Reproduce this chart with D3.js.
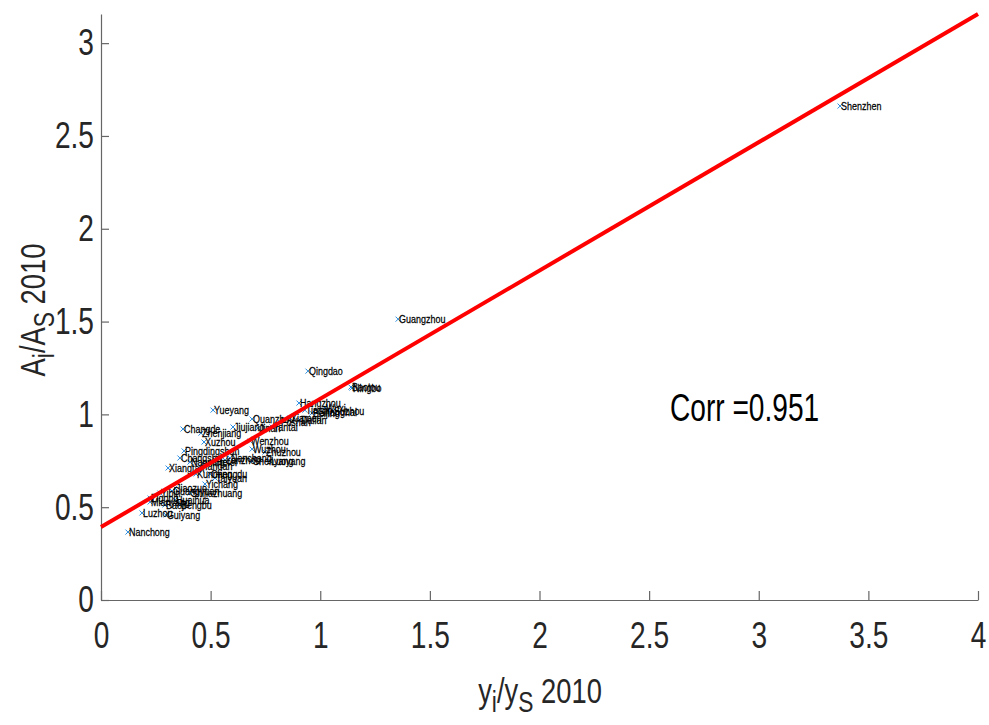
<!DOCTYPE html>
<html>
<head>
<meta charset="utf-8">
<script src="https://cdn.jsdelivr.net/npm/d3@7"></script>
<style>
  body { margin: 0; background: #fff; }
  svg { display: block; font-family: "Liberation Sans", Arial, sans-serif; }
</style>
</head>
<body>
<svg id="chart" width="989" height="725"></svg>
<script>
// mesta a jejich hodnoty (odhad z obrazku)
const cities = ["Shenzhen", "Guangzhou", "Qingdao", "Baotou", "Ningbo", "Hangzhou", "Tianjin", "Beijing",
    "Shanghai", "Wuxi", "Suzhou", "Dalian", "Xiamen", "Foshan", "Yantai", "Quanzhou", "Jinan", "Yueyang",
    "Jiujiang", "Changde", "Zhenjiang", "Xuzhou", "Wenzhou", "Wuzhou", "Zhuzhou", "Pingdingshan", "Nanchang",
    "Shenyang", "Luoyang", "Hefei", "Kunming", "Chengdu", "Xiangtan", "Nanning", "Handan", "Changsha",
    "Yichang", "Shijiazhuang", "Jiaozuo", "Guangyuan", "Zigong", "Mianyang", "Baoji", "Luzhou", "Guiyang",
    "Nanchong", "Huaihua", "Bengbu", "Yibin", "Taiyuan", "Lanzhou"];
// y_i / y_S 2010
const incomeRatio = [3.371, 1.355, 0.944, 1.140, 1.145, 0.903, 0.930, 0.962,
    0.990, 1.022, 1.058, 0.908, 0.862, 0.816, 0.780, 0.689, 0.716, 0.511,
    0.602, 0.374, 0.456, 0.470, 0.680, 0.689, 0.748, 0.379, 0.588,
    0.689, 0.771, 0.520, 0.433, 0.497, 0.306, 0.406, 0.452, 0.360,
    0.474, 0.406, 0.338, 0.324, 0.224, 0.224, 0.292, 0.187, 0.296,
    0.123, 0.338, 0.360, 0.269, 0.520, 0.566];
// A_i / A_S 2010
const tfpRatio = [2.661, 1.513, 1.233, 1.147, 1.142, 1.061, 1.023, 1.007,
    1.013, 1.034, 1.018, 0.969, 0.980, 0.959, 0.932, 0.975, 0.926, 1.023,
    0.932, 0.921, 0.899, 0.851, 0.856, 0.813, 0.797, 0.803, 0.765,
    0.749, 0.749, 0.743, 0.679, 0.679, 0.711, 0.743, 0.722, 0.765,
    0.625, 0.576, 0.603, 0.587, 0.549, 0.528, 0.512, 0.469, 0.458,
    0.366, 0.539, 0.512, 0.576, 0.657, 0.754];
// regresni primka
const fitIntercept = 0.393;
const fitSlope = 0.691;
const corrValue = "0.951";
const xTicks = [0, 0.5, 1, 1.5, 2, 2.5, 3, 3.5, 4];
const yTicks = [0, 0.5, 1, 1.5, 2, 2.5, 3];

const svg = d3.select("#chart");
const squeeze = 0.76; // pismo je zuzene

const x = d3.scaleLinear().domain([0, 4]).range([101, 978]);
const y = d3.scaleLinear().domain([0, fitIntercept + fitSlope * 4]).range([600, 14]);

// osy
const xAxis = d3.axisBottom(x).tickValues(xTicks).tickFormat(d3.format("")).tickSizeInner(-9).tickSizeOuter(0).tickPadding(22);
const yAxis = d3.axisLeft(y).tickValues(yTicks).tickFormat(d3.format("")).tickSizeInner(-8).tickSizeOuter(0).tickPadding(7);

const gx = svg.append("g").attr("transform", "translate(0,600)").call(xAxis);
const gy = svg.append("g").attr("transform", "translate(101,0)").call(yAxis);

[gx, gy].forEach(g => {
    g.select(".domain").attr("stroke", "#666").attr("stroke-width", 1.2);
    g.selectAll(".tick line").attr("stroke", "#666").attr("stroke-width", 1.2);
    g.selectAll(".tick text").attr("fill", "#262626").attr("font-size", 37)
        .attr("font-family", "'Liberation Sans', Arial, sans-serif");
});
gx.selectAll(".tick text").attr("transform", `scale(${squeeze},1)`);
gy.selectAll(".tick text").attr("x", -7 / squeeze).attr("transform", `scale(${squeeze},1)`);

// body s popisky
const pts = cities.map((c, i) => ({name: c, vx: incomeRatio[i], vy: tfpRatio[i]}));
const marks = svg.append("g");
const ms = 2.5;
marks.selectAll("path.mk").data(pts).join("path")
    .attr("class", "mk")
    .attr("d", d => `M${x(d.vx) - ms},${y(d.vy) - ms}L${x(d.vx) + ms},${y(d.vy) + ms}M${x(d.vx) - ms},${y(d.vy) + ms}L${x(d.vx) + ms},${y(d.vy) - ms}`)
    .attr("stroke", "#2a8be0").attr("stroke-width", 1).attr("fill", "none");
marks.selectAll("text.lb").data(pts).join("text")
    .attr("class", "lb")
    .attr("transform", d => `translate(${x(d.vx) + 1},${y(d.vy) + 4}) scale(0.78,1)`)
    .attr("font-size", 11.5).attr("fill", "#000")
    .attr("stroke", "#000").attr("stroke-width", 0.25)
    .text(d => d.name);

// regresni primka
svg.append("line")
    .attr("x1", x(0)).attr("y1", y(fitIntercept))
    .attr("x2", x(4)).attr("y2", y(fitIntercept + fitSlope * 4))
    .attr("stroke", "#ff0000").attr("stroke-width", 4);

// korelace
svg.append("text")
    .attr("transform", `translate(670,421) scale(${squeeze - 0.02},1)`)
    .attr("font-size", 38).attr("fill", "#000")
    .text("Corr =" + corrValue);

// popisky os
const xl = svg.append("text")
    .attr("transform", `translate(540,703) scale(${squeeze},1)`)
    .attr("text-anchor", "middle").attr("font-size", 36).attr("fill", "#262626");
xl.append("tspan").text("y");
xl.append("tspan").attr("font-size", 30).attr("dy", 9).text("i");
xl.append("tspan").attr("dy", -9).text("/y");
xl.append("tspan").attr("font-size", 30).attr("dy", 9).text("S");
xl.append("tspan").attr("dy", -9).text(" 2010");

const yl = svg.append("text")
    .attr("transform", `translate(45,310) rotate(-90) scale(${squeeze},1)`)
    .attr("text-anchor", "middle").attr("font-size", 36).attr("fill", "#262626");
yl.append("tspan").text("A");
yl.append("tspan").attr("font-size", 30).attr("dy", 9).text("i");
yl.append("tspan").attr("dy", -9).text("/A");
yl.append("tspan").attr("font-size", 30).attr("dy", 9).text("S");
yl.append("tspan").attr("dy", -9).text(" 2010");
</script>
</body>
</html>
